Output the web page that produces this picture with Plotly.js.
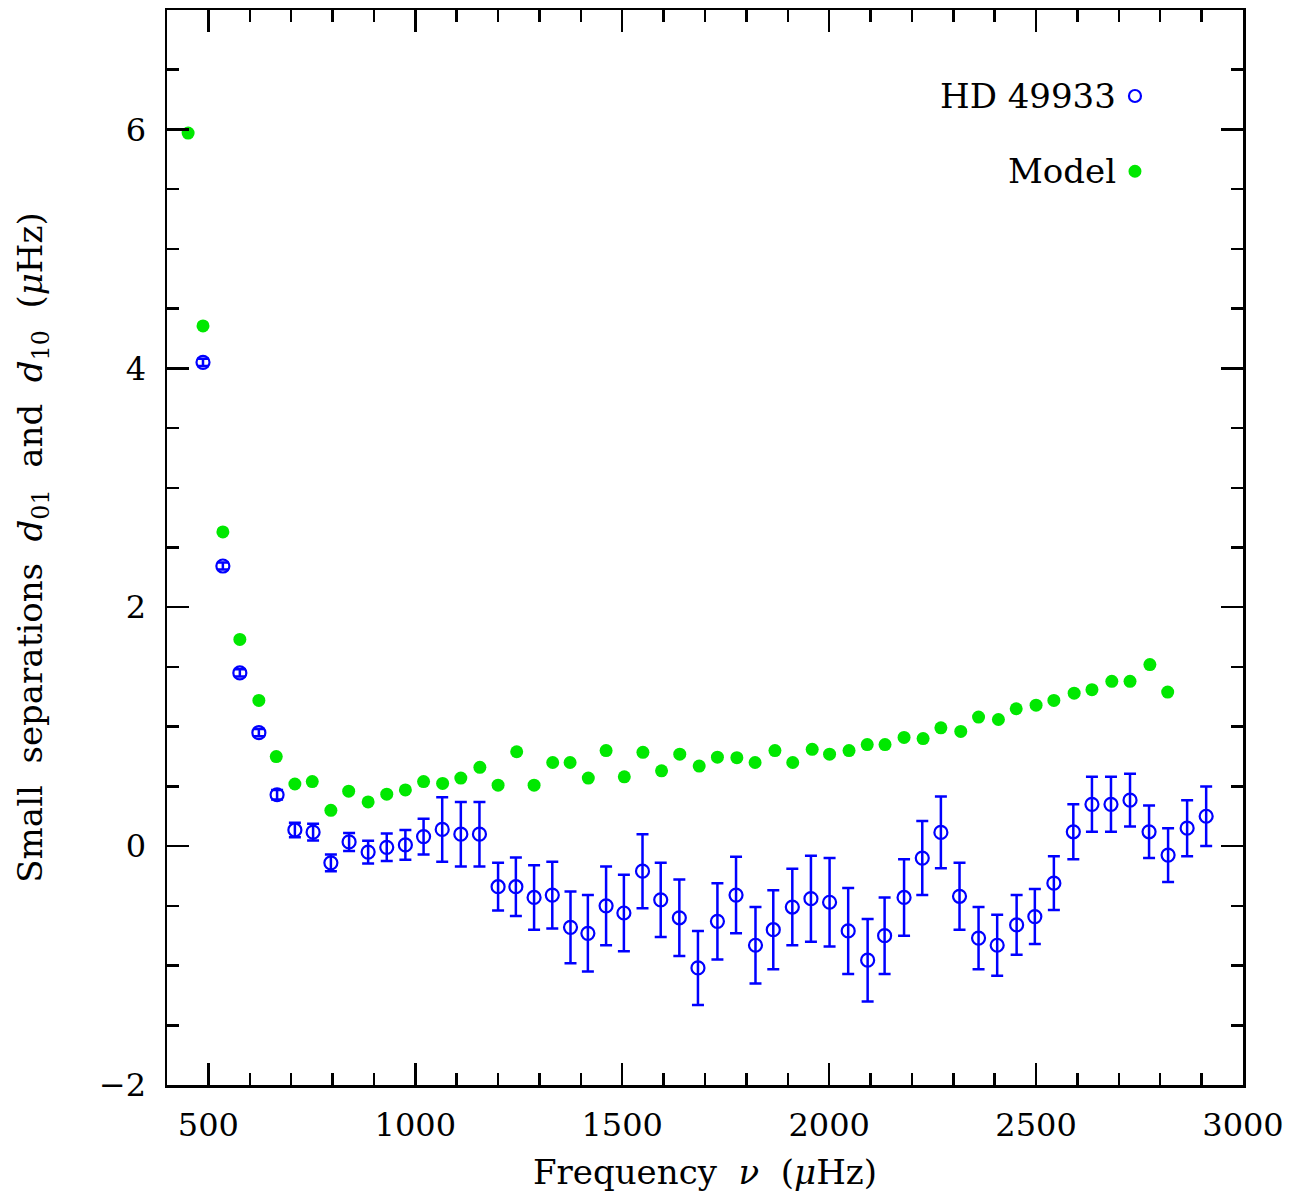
<!DOCTYPE html>
<html>
<head>
<meta charset="utf-8">
<script src="https://cdn.plot.ly/plotly-3.0.1.min.js"></script>
<style>html,body{margin:0;padding:0;background:#fff;}#chart{width:1294px;height:1198px;}</style>
</head>
<body>
<div id="chart"></div>
<script>
// HD 49933 observed small separations (muHz)
const obsFreq = [487, 535, 576, 622, 666, 709, 753, 796, 840, 886, 931, 976, 1020, 1065, 1110, 1155, 1200, 1243, 1287, 1331, 1375, 1417, 1461, 1504, 1549, 1593, 1638, 1683, 1730, 1775, 1822, 1865, 1911, 1956, 2001, 2046, 2093, 2134, 2181, 2225, 2270, 2315, 2361, 2406, 2453, 2497, 2543, 2590, 2635, 2681, 2727, 2773, 2819, 2865, 2911];
const obsSep = [4.05, 2.345, 1.45, 0.95, 0.43, 0.135, 0.117, -0.14, 0.035, -0.05, -0.01, 0.01, 0.08, 0.14, 0.10, 0.10, -0.34, -0.34, -0.43, -0.41, -0.68, -0.73, -0.50, -0.56, -0.21, -0.45, -0.60, -1.02, -0.63, -0.41, -0.83, -0.70, -0.51, -0.44, -0.47, -0.71, -0.955, -0.75, -0.43, -0.10, 0.115, -0.42, -0.77, -0.83, -0.66, -0.59, -0.31, 0.12, 0.35, 0.35, 0.385, 0.12, -0.075, 0.15, 0.25];
const obsErr = [0.03, 0.03, 0.03, 0.03, 0.04, 0.06, 0.07, 0.07, 0.075, 0.095, 0.115, 0.125, 0.15, 0.27, 0.27, 0.27, 0.20, 0.245, 0.27, 0.28, 0.30, 0.32, 0.33, 0.32, 0.31, 0.31, 0.32, 0.31, 0.32, 0.32, 0.32, 0.33, 0.32, 0.36, 0.37, 0.36, 0.345, 0.32, 0.32, 0.31, 0.30, 0.28, 0.26, 0.255, 0.25, 0.23, 0.225, 0.23, 0.23, 0.23, 0.22, 0.22, 0.225, 0.235, 0.25];

// Model small separations
const modFreq = [451, 487, 535, 576, 622, 664, 709, 751, 796, 839, 886, 931, 976, 1020, 1066, 1110, 1156, 1200, 1245, 1287, 1332, 1374, 1418, 1461, 1505, 1550, 1595, 1639, 1686, 1730, 1777, 1821, 1869, 1912, 1959, 2001, 2048, 2092, 2135, 2181, 2227, 2270, 2318, 2361, 2409, 2452, 2500, 2543, 2592, 2635, 2683, 2727, 2775, 2818];
const modSep = [5.97, 4.355, 2.63, 1.73, 1.22, 0.75, 0.52, 0.54, 0.30, 0.46, 0.37, 0.435, 0.47, 0.54, 0.525, 0.57, 0.66, 0.51, 0.79, 0.51, 0.70, 0.70, 0.57, 0.80, 0.58, 0.785, 0.63, 0.77, 0.67, 0.745, 0.74, 0.70, 0.80, 0.70, 0.81, 0.77, 0.80, 0.85, 0.85, 0.91, 0.90, 0.99, 0.96, 1.08, 1.06, 1.15, 1.18, 1.22, 1.28, 1.31, 1.38, 1.38, 1.52, 1.29];

const seriesNames = ["HD&nbsp;49933", "Model"];
const xTitle = "Frequency&nbsp; <i>ν</i>&nbsp; (<i>μ</i>Hz)";
const yTitle = "Small&nbsp; separations&nbsp; <i>d</i><sub>01</sub>&nbsp; and&nbsp; <i>d</i><sub>10</sub>&nbsp; (<i>μ</i>Hz)";

const BLUE = "#0000ff";
const GREEN = "#00e800";
const FONT = "DejaVu Serif, Liberation Serif, serif";

const traces = [
  {
    x: modFreq, y: modSep, type: "scatter", mode: "markers", name: "Model",
    marker: {symbol: "circle", size: 13, color: GREEN, line: {width: 0}},
    showlegend: false, hoverinfo: "x+y"
  },
  {
    x: obsFreq, y: obsSep, type: "scatter", mode: "markers", name: "HD 49933",
    marker: {symbol: "circle-open", size: 13, color: BLUE, line: {width: 2.2, color: BLUE}},
    error_y: {type: "data", array: obsErr, visible: true, color: BLUE, thickness: 2.5, width: 6},
    showlegend: false, hoverinfo: "x+y"
  }
];

const axisCommon = {
  showline: true, linecolor: "black", linewidth: 2.5, mirror: "ticks",
  ticks: "inside", ticklen: 22, tickwidth: 2.5, tickcolor: "black",
  showgrid: false, zeroline: false,
  tickfont: {family: FONT, size: 32, color: "black"}
};

const layout = {
  width: 1294, height: 1198,
  margin: {l: 167, r: 51, t: 10, b: 113},
  paper_bgcolor: "white", plot_bgcolor: "white",
  font: {family: FONT, color: "black"},
  showlegend: false,
  xaxis: Object.assign({}, axisCommon, {
    range: [400, 3000], tick0: 0, dtick: 500,
    ticklabelstandoff: 10,
    minor: {dtick: 100, tick0: 0, ticks: "inside", ticklen: 12, tickwidth: 2.5, tickcolor: "black", showgrid: false},
    title: {text: xTitle, font: {family: FONT, size: 34, color: "black"}, standoff: 18}
  }),
  yaxis: Object.assign({}, axisCommon, {
    range: [-2, 7], tick0: 0, dtick: 2,
    ticklabelstandoff: 12,
    minor: {dtick: 0.5, tick0: 0, ticks: "inside", ticklen: 12, tickwidth: 2.5, tickcolor: "black", showgrid: false},
    title: {text: yTitle, font: {family: FONT, size: 34, color: "black"}, standoff: 46}
  }),
  annotations: [
    {xref: "paper", yref: "paper", x: 0.884, y: 0.920, xanchor: "right", yanchor: "middle",
     text: seriesNames[0], showarrow: false, font: {family: FONT, size: 34, color: "black"}},
    {xref: "paper", yref: "paper", x: 0.884, y: 0.850, xanchor: "right", yanchor: "middle",
     text: seriesNames[1], showarrow: false, font: {family: FONT, size: 34, color: "black"}}
  ],
  shapes: [
    {type: "circle", xref: "paper", yref: "paper", xsizemode: "pixel", ysizemode: "pixel",
     xanchor: 0.8996, yanchor: 0.920, x0: -6, x1: 6, y0: -6, y1: 6,
     line: {color: BLUE, width: 2.2}, fillcolor: "rgba(0,0,0,0)"},
    {type: "circle", xref: "paper", yref: "paper", xsizemode: "pixel", ysizemode: "pixel",
     xanchor: 0.8996, yanchor: 0.850, x0: -6.5, x1: 6.5, y0: -6.5, y1: 6.5,
     line: {color: GREEN, width: 0}, fillcolor: GREEN}
  ]
};

Plotly.newPlot("chart", traces, layout, {staticPlot: true, displayModeBar: false});
</script>
</body>
</html>
